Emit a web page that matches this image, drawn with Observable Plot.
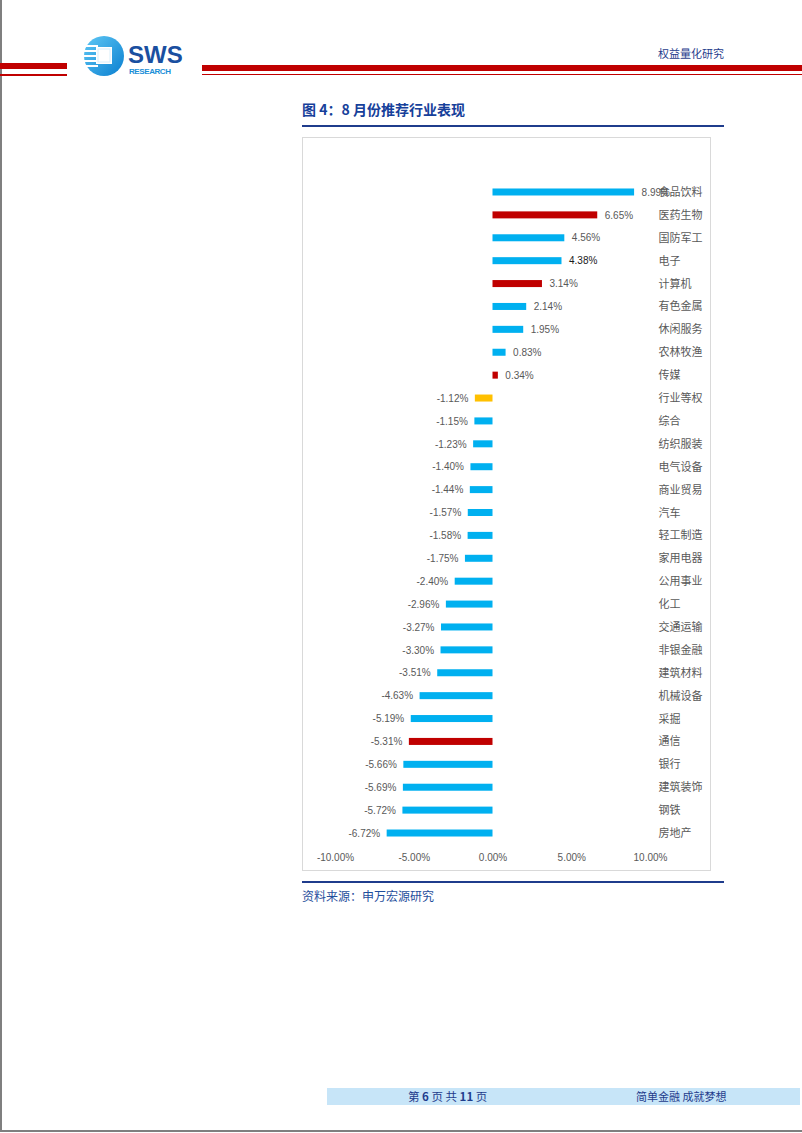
<!DOCTYPE html>
<html>
<head>
<meta charset="utf-8">
<script src="https://cdn.jsdelivr.net/npm/d3@7"></script>
<script src="https://cdn.jsdelivr.net/npm/@observablehq/plot@0.6"></script>
<style>
  html, body { margin: 0; padding: 0; background: #fff; }
  body { width: 802px; height: 1133px; position: relative; overflow: hidden;
         font-family: "Liberation Sans", "Noto Sans CJK SC", sans-serif; }
  .abs { position: absolute; }
  .red { position: absolute; background: #C00000; }
  .blue { color: #1F3C8C; }
</style>
</head>
<body>
<!-- page border -->
<div class="abs" style="left:0;top:0;width:800px;height:1130px;border-left:2px solid #7f7f7f;border-right:2px solid #7f7f7f;border-bottom:2px solid #7f7f7f;"></div>

<!-- header red lines -->
<div class="red" style="left:0;top:63px;width:67px;height:6px;"></div>
<div class="red" style="left:0;top:74px;width:67px;height:1.5px;"></div>
<div class="red" style="left:202px;top:65px;width:600px;height:6px;"></div>
<div class="red" style="left:202px;top:73.5px;width:600px;height:1.5px;"></div>

<!-- logo -->
<svg class="abs" style="left:82px;top:34px;" width="110" height="46" viewBox="0 0 110 46">
  <defs>
    <linearGradient id="lg" x1="0" y1="0" x2="1" y2="1">
      <stop offset="0" stop-color="#5fc8f5"/>
      <stop offset="1" stop-color="#0a7fd0"/>
    </linearGradient>
  </defs>
  <circle cx="22" cy="22" r="20" fill="url(#lg)"/>
  <g fill="#fff">
    <rect x="2" y="11" width="14" height="2"/>
    <rect x="1" y="16" width="15" height="2"/>
    <rect x="1" y="21" width="15" height="2"/>
    <rect x="1" y="26" width="15" height="2"/>
    <rect x="2" y="31" width="14" height="2"/>
    <rect x="14" y="13" width="16" height="17"/>
  </g>
  <rect x="16" y="15" width="12" height="13" fill="#fff" stroke="#d8eefb" stroke-width="1"/>
  <text x="46" y="29" font-family="Liberation Sans, sans-serif" font-weight="bold" font-size="24" fill="#1a4fa0">SWS</text>
  <text x="47" y="40" font-family="Liberation Sans, sans-serif" font-weight="bold" font-size="8" fill="#1a8fd8" textLength="42">RESEARCH</text>
</svg>

<div class="abs blue" style="left:658px;top:45px;font-size:11px;font-family:'Noto Sans CJK SC',sans-serif;">权益量化研究</div>

<!-- title -->
<div class="abs blue" style="left:302px;top:99px;font-size:14px;font-weight:bold;font-family:'Noto Sans CJK SC',sans-serif;color:#16409a;">图 4：8 月份推荐行业表现</div>
<div class="abs" style="left:302px;top:125px;width:422px;height:2px;background:#1F3C8C;"></div>

<!-- chart box -->
<div class="abs" style="left:302px;top:137px;width:407px;height:732px;border:1px solid #d9d9d9;"></div>
<div id="chart" class="abs" style="left:302px;top:137px;"></div>

<!-- source -->
<div class="abs" style="left:302px;top:881px;width:422px;height:2px;background:#1F3C8C;"></div>
<div class="abs blue" style="left:302px;top:887px;font-size:12px;font-family:'Noto Sans CJK SC',sans-serif;color:#1F4E9C;">资料来源：申万宏源研究</div>

<!-- footer -->
<div class="abs" style="left:327px;top:1088px;width:473px;height:17px;background:#C7E5F8;"></div>
<div class="abs blue" style="left:408px;top:1088px;font-size:11.5px;line-height:17px;font-family:'Noto Sans CJK SC',sans-serif;">第 <b>6</b> 页 共 <b>11</b> 页</div>
<div class="abs blue" style="left:636px;top:1088px;font-size:11px;line-height:17px;font-family:'Noto Sans CJK SC',sans-serif;">简单金融 成就梦想</div>

<script>
const industries = ["食品饮料","医药生物","国防军工","电子","计算机","有色金属","休闲服务","农林牧渔","传媒","行业等权","综合","纺织服装","电气设备","商业贸易","汽车","轻工制造","家用电器","公用事业","化工","交通运输","非银金融","建筑材料","机械设备","采掘","通信","银行","建筑装饰","钢铁","房地产"];
const returns = [8.99,6.65,4.56,4.38,3.14,2.14,1.95,0.83,0.34,-1.12,-1.15,-1.23,-1.40,-1.44,-1.57,-1.58,-1.75,-2.40,-2.96,-3.27,-3.30,-3.51,-4.63,-5.19,-5.31,-5.66,-5.69,-5.72,-6.72];
const recommended = ["医药生物","计算机","传媒","通信"];
const benchmark = ["行业等权"];
const xTicks = [-10,-5,0,5,10];

const groupOf = n => recommended.includes(n) ? "推荐" : benchmark.includes(n) ? "等权" : "其他";
const data = industries.map((name, i) => ({name, value: returns[i], group: groupOf(name)}));
const pct = v => v.toFixed(2) + "%";

const chart = Plot.plot({
  width: 408,
  height: 733,
  marginLeft: 33,
  marginRight: 60,
  marginTop: 35.6,
  marginBottom: 17.6,
  style: {fontFamily: "'Liberation Sans','Noto Sans CJK SC',sans-serif", background: "transparent", color: "#595959"},
  x: {domain: [-10, 10], axis: null},
  y: {domain: industries, padding: 0.694, round: false, axis: null},
  color: {domain: ["其他","推荐","等权"], range: ["#00B0F0","#C00000","#FFC000"]},
  marks: [
    Plot.ruleX([0], {stroke: "#d9d9d9", y1: industries[0], y2: industries[industries.length-1], insetTop: -12, insetBottom: -15}),
    Plot.barX(data, {x: "value", y: "name", fill: "group"}),
    Plot.text(data.filter(d => d.value >= 0), {x: "value", y: "name", text: d => pct(d.value), textAnchor: "start", dx: 7, fontSize: 10, fill: d => d.name === "电子" ? "#1a1a1a" : "#595959"}),
    Plot.text(data.filter(d => d.value < 0), {x: "value", y: "name", text: d => pct(d.value), textAnchor: "end", dx: -7, fontSize: 10, fill: "#595959"}),
    Plot.axisX({ticks: xTicks, tickFormat: pct, tickSize: 0, tickPadding: 1, fontSize: 10, anchor: "bottom", color: "#595959", label: null}),
    Plot.axisY({anchor: "right", tickSize: 0, tickPadding: 8, fontSize: 11, color: "#595959", fontFamily: "'Noto Sans CJK SC',sans-serif", label: null})
  ]
});
document.getElementById("chart").appendChild(chart);
</script>
</body>
</html>
